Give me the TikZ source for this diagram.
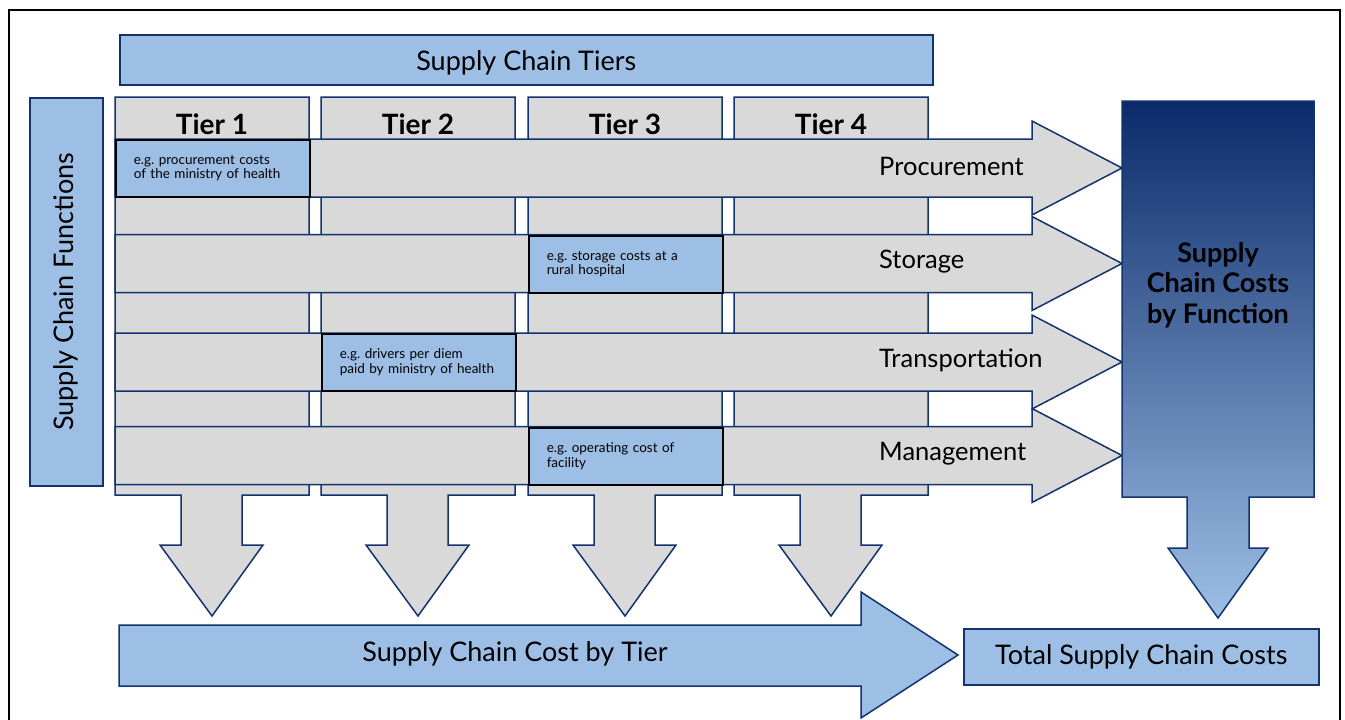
\documentclass[tikz,border=0pt]{standalone}
\usepackage{fontspec}
\setmainfont{Lato}
\frenchspacing
\definecolor{tierfill}{HTML}{D9D9D9}
\definecolor{boxblue}{HTML}{9DBFE5}
\definecolor{edgeblue}{HTML}{13336E}
\definecolor{navytop}{HTML}{0B2A6A}
\begin{document}
\begin{tikzpicture}[x=1pt,y=-1pt,
    greyshape/.style={fill=tierfill,draw=edgeblue,line width=1.5pt},
    blueshape/.style={fill=boxblue,draw=edgeblue,line width=1.5pt},
    egbox/.style={fill=boxblue,draw=black,line width=1.5pt,anchor=north west,
        text width=158pt,inner xsep=18pt,minimum height=57pt,align=left,
        font=\fontsize{13.5}{14.5}\selectfont},
    biglabel/.style={font=\fontsize{27}{30}\selectfont},
    funclabel/.style={font=\fontsize{25.5}{30}\selectfont,anchor=west,inner sep=0pt},
    tierlabel/.style={font=\bfseries\fontsize{28}{30}\selectfont}]
    \useasboundingbox (0,0) rectangle (1345,720);
    \clip (0,0) rectangle (1345,720);

    % Frame
    \draw[line width=2pt] (9,10) rectangle (1340,760);

    % Header boxes
    \node[blueshape,anchor=north west,minimum width=813pt,minimum height=50pt]
        (tiers) at (119,34) {};
    \node[biglabel] at ([yshift=-3pt]tiers.center) {Supply Chain Tiers};
    \node[blueshape,anchor=north west,minimum width=73pt,minimum height=388pt]
        (funcs) at (29,97) {};
    \node[biglabel,rotate=90] at (funcs.center) {Supply Chain Functions};

    % Tier columns with down arrows
    \foreach \xl/\n in {115/1,321/2,528/3,734/4}{
        \draw[greyshape] (\xl,97) -- ++(194,0) -- ++(0,398) -- ++(-67,0) -- ++(0,50)
            -- ++(21,0) -- (\xl+97,616) -- (\xl+45,545) -- ++(21,0) -- ++(0,-50)
            -- (\xl,495) -- cycle;
        \node[tierlabel] (tier\n) at (\xl+97,124) {Tier \n};
    }

    % Function arrows
    \foreach \yc/\name/\lab in {168/proc/Procurement,263.5/stor/Storage,
        362/trans/Transportation,455.5/mgmt/Management}{
        \draw[greyshape] (115,\yc-29) -- (1032,\yc-29) -- (1032,\yc-47) -- (1122,\yc)
            -- (1032,\yc+47) -- (1032,\yc+29) -- (115,\yc+29) -- cycle;
        \node[funclabel] (\name) at (879,\yc-2) {\lab};
    }

    % Example cost boxes
    \node[egbox] (egproc) at (115,139) {e.g. procurement costs\\of the ministry of health};
    \node[egbox] (egstor) at (528,235) {e.g. storage costs at a\\rural hospital};
    \node[egbox] (egtrans) at (321,333) {e.g. drivers per diem\\paid by ministry of health};
    \node[egbox] (egmgmt) at (528,427) {e.g. operating cost of\\facility};

    % Costs by function
    \shadedraw[top color=navytop,bottom color=boxblue,draw=edgeblue,line width=1.5pt]
        (1122,101) -- (1314,101) -- (1314,497) -- (1249,497) -- (1249,548) -- (1268,548)
        -- (1218,618) -- (1168,548) -- (1187,548) -- (1187,497) -- (1122,497) -- cycle;
    \node[align=center,font=\bfseries\fontsize{27}{30.5}\selectfont]
        (costfunc) at (1218,285) {Supply\\Chain Costs\\by Function};

    % Costs by tier and total
    \draw[blueshape] (119,625) -- (861,625) -- (861,592) -- (958,655) -- (861,718)
        -- (861,686) -- (119,686) -- cycle;
    \node[biglabel] (costtier) at (515,654) {Supply Chain Cost by Tier};
    \node[blueshape,biglabel,anchor=north west,minimum width=355pt,minimum height=56pt]
        (total) at (963,628) {Total Supply Chain Costs};
\end{tikzpicture}
\end{document}
